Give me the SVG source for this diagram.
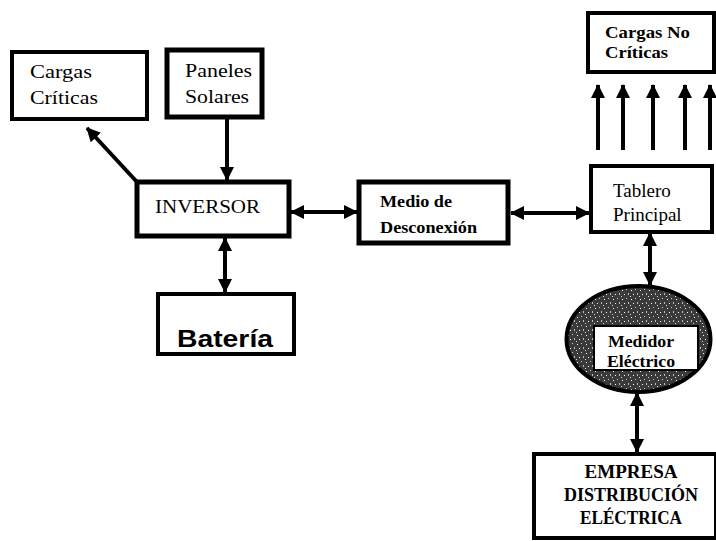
<svg xmlns="http://www.w3.org/2000/svg" width="716" height="541" viewBox="0 0 716 541">
<style>
.box{fill:#fff;stroke:#000;stroke-width:4}
.thick{stroke-width:5}
.ln{stroke:#000;stroke-width:4;fill:none}
.t{font-family:"Liberation Serif","Times New Roman",serif;font-size:19px;fill:#000}
.tb{font-family:"Liberation Serif","Times New Roman",serif;font-weight:bold;fill:#000}
.sans{font-family:"Liberation Sans",Arial,sans-serif;font-weight:bold;fill:#000}
</style>
<defs>
<marker id="ah" markerUnits="userSpaceOnUse" markerWidth="14" markerHeight="14" viewBox="0 0 14 14" refX="13" refY="7" orient="auto-start-reverse">
<path d="M0,0 L14,7 L0,14 Z" fill="#000"/>
</marker>
<pattern id="speck" width="9" height="9" patternUnits="userSpaceOnUse">
<rect width="9" height="9" fill="#3a3a3a"/>
<rect x="1" y="2" width="1" height="1" fill="#fff"/>
<rect x="5" y="1" width="1" height="1" fill="#ccc"/>
<rect x="3" y="6" width="1" height="1" fill="#fff"/>
<rect x="7" y="5" width="1" height="2" fill="#bbb"/>
<rect x="0" y="8" width="1" height="1" fill="#ddd"/>
</pattern>
</defs>
<rect width="716" height="541" fill="#fff"/>

<g id="connectors">
<line class="ln" x1="227" y1="118" x2="227" y2="180" marker-end="url(#ah)"/>
<line class="ln" x1="137" y1="182" x2="87" y2="128" marker-end="url(#ah)"/>
<line class="ln" x1="291" y1="212" x2="357" y2="212" marker-start="url(#ah)" marker-end="url(#ah)"/>
<line class="ln" x1="511" y1="213" x2="589" y2="213" marker-start="url(#ah)" marker-end="url(#ah)"/>
<line class="ln" x1="598" y1="150" x2="598" y2="85" marker-end="url(#ah)"/>
<line class="ln" x1="623" y1="150" x2="623" y2="85" marker-end="url(#ah)"/>
<line class="ln" x1="653" y1="150" x2="653" y2="85" marker-end="url(#ah)"/>
<line class="ln" x1="685" y1="150" x2="685" y2="85" marker-end="url(#ah)"/>
<line class="ln" x1="710" y1="150" x2="710" y2="85" marker-end="url(#ah)"/>
<line class="ln" x1="650" y1="233" x2="650" y2="285" marker-start="url(#ah)" marker-end="url(#ah)"/>
<line class="ln" x1="637" y1="393" x2="637" y2="452" marker-start="url(#ah)" marker-end="url(#ah)"/>
<line class="ln" x1="225" y1="238" x2="225" y2="292" marker-start="url(#ah)" marker-end="url(#ah)"/>
</g>

<g id="cargas-criticas">
<rect class="box" x="12" y="52" width="135" height="67"/>
<text class="t" x="30" y="78" textLength="62" lengthAdjust="spacingAndGlyphs">Cargas</text>
<text class="t" x="30" y="104" textLength="68" lengthAdjust="spacingAndGlyphs">Críticas</text>
</g>

<g id="paneles-solares">
<rect class="box thick" x="167" y="50" width="95" height="67"/>
<text class="t" x="185" y="77" textLength="67" lengthAdjust="spacingAndGlyphs">Paneles</text>
<text class="t" x="185" y="103" textLength="64" lengthAdjust="spacingAndGlyphs">Solares</text>
</g>

<g id="inversor">
<rect class="box thick" x="137" y="182" width="152" height="54"/>
<text class="t" x="155" y="213" font-size="20" textLength="105" lengthAdjust="spacingAndGlyphs">INVERSOR</text>
</g>

<g id="bateria">
<rect class="box" x="158" y="294" width="136" height="60"/>
<text class="sans" x="177" y="347" font-size="24" textLength="96" lengthAdjust="spacingAndGlyphs">Batería</text>
</g>

<g id="medio-desconexion">
<rect class="box thick" x="359" y="182" width="149" height="61"/>
<text class="tb" x="380" y="207" font-size="16" textLength="72" lengthAdjust="spacingAndGlyphs">Medio de</text>
<text class="tb" x="380" y="233" font-size="16" textLength="97" lengthAdjust="spacingAndGlyphs">Desconexión</text>
</g>

<g id="tablero-principal">
<rect class="box" x="591" y="166" width="121" height="66"/>
<text class="t" x="613" y="197" font-size="18">Tablero</text>
<text class="t" x="613" y="221" font-size="18">Principal</text>
</g>

<g id="cargas-no-criticas">
<rect class="box" x="588" y="13" width="126" height="59"/>
<text class="tb" x="605" y="38" font-size="16" textLength="85" lengthAdjust="spacingAndGlyphs">Cargas No</text>
<text class="tb" x="605" y="58" font-size="16" textLength="63" lengthAdjust="spacingAndGlyphs">Críticas</text>
</g>

<g id="medidor-electrico">
<ellipse cx="638.5" cy="339" rx="72" ry="53" fill="url(#speck)" stroke="#000" stroke-width="4"/>
<rect x="594" y="326" width="104" height="44" fill="#fff" stroke="#000" stroke-width="2"/>
<text class="tb" x="641" y="347" font-size="16" text-anchor="middle" textLength="66" lengthAdjust="spacingAndGlyphs">Medidor</text>
<text class="tb" x="641" y="367" font-size="16" text-anchor="middle" textLength="68" lengthAdjust="spacingAndGlyphs">Eléctrico</text>
</g>

<g id="empresa-distribucion">
<rect class="box" x="534" y="454" width="182" height="84"/>
<text class="tb" x="631" y="478" font-size="18" text-anchor="middle" textLength="93" lengthAdjust="spacingAndGlyphs">EMPRESA</text>
<text class="tb" x="631" y="501" font-size="18" text-anchor="middle" textLength="134" lengthAdjust="spacingAndGlyphs">DISTRIBUCIÓN</text>
<text class="tb" x="631" y="524" font-size="18" text-anchor="middle" textLength="102" lengthAdjust="spacingAndGlyphs">ELÉCTRICA</text>
</g>
</svg>
